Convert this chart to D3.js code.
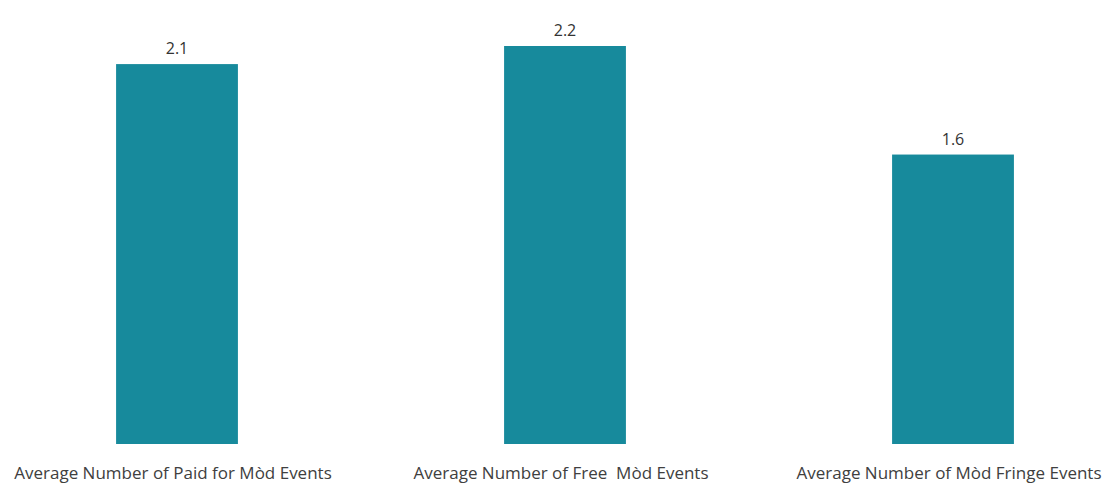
<!DOCTYPE html>
<html><head><meta charset="utf-8">
<script src="https://cdn.jsdelivr.net/npm/d3@7"></script>
<style>body{margin:0;background:#fff}svg{display:block}text{white-space:pre}</style>
</head><body>
<script>
const categories = ["Average Number of Paid for Mòd Events", "Average Number of Free  Mòd Events", "Average Number of Mòd Fringe Events"];
const values = [2.1, 2.2, 1.6];
const valueLabels = ["2.1", "2.2", "1.6"];

const W = 1112, H = 486;
const svg = d3.select("body").append("svg").attr("width", W).attr("height", H);
const x = d3.scaleBand().domain(categories).range([-17, 1147]).paddingInner(0.686).paddingOuter(0.343);
const y = d3.scaleLinear().domain([0, 2.2]).range([444, 46]);
const font = "'Open Sans', Lato, sans-serif";

svg.selectAll("rect.bar").data(values).join("rect").attr("class","bar")
  .attr("x", (d,i) => x(categories[i])).attr("width", x.bandwidth())
  .attr("y", d => y(d)).attr("height", d => y(0) - y(d))
  .attr("fill", "#178a9c");

svg.selectAll("text.val").data(values).join("text").attr("class","val")
  .attr("x", (d,i) => x(categories[i]) + x.bandwidth()/2)
  .attr("y", d => y(d) - 10)
  .attr("text-anchor","middle").attr("font-family", font).attr("font-size", 16)
  .attr("fill","#333").text((d,i) => valueLabels[i]);

const xAxis = d3.axisBottom(x).tickSize(0).tickPadding(0);
const g = svg.append("g").attr("transform","translate(-4,467)").call(xAxis);
g.select(".domain").remove();
g.selectAll("text").attr("font-family", font).attr("font-size", 17).attr("fill","#404040");
</script>
</body></html>
